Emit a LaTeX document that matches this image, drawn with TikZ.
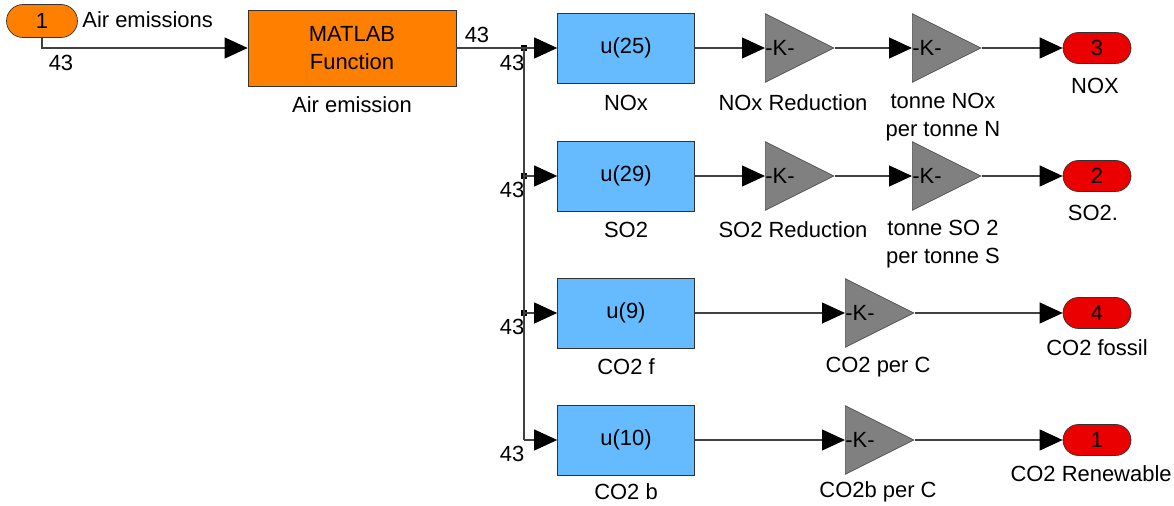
\documentclass[tikz,border=0pt]{standalone}
\usepackage{fontspec}
\setmainfont{Liberation Sans}
\usetikzlibrary{shapes.geometric, shapes.misc, arrows.meta, positioning}

\definecolor{portorange}{RGB}{255,128,0}
\definecolor{fcnorange}{RGB}{255,128,0}
\definecolor{selblue}{RGB}{102,187,255}
\definecolor{gaingray}{RGB}{128,128,128}
\definecolor{outred}{RGB}{235,0,0}

\tikzset{
  wire/.style={line width=0.6pt, black!75},
  sig/.style={wire, -{Triangle[length=0.46cm, width=0.42cm, black]}},
  inport/.style={draw=black!80, fill=portorange, rounded rectangle, minimum width=1.42cm, minimum height=0.66cm, inner sep=0pt},
  outport/.style={draw=black!80, fill=outred, rounded rectangle, minimum width=1.36cm, minimum height=0.62cm, inner sep=0pt},
  fcnblock/.style={draw=black!80, fill=fcnorange, rectangle, minimum width=4.16cm, minimum height=1.52cm, align=center, font=\fontsize{12.5}{16}\selectfont},
  selblock/.style={draw=black!80, fill=selblue, rectangle, minimum width=2.74cm, minimum height=1.40cm},
  gainblock/.style={draw=black!70, fill=gaingray, isosceles triangle, isosceles triangle stretches, minimum width=1.37cm, minimum height=1.37cm, inner sep=0pt, anchor=lower side},
  lbl/.style={font=\fontsize{12.5}{16}\selectfont, align=center, inner sep=0pt},
  brdot/.style={fill=black, rectangle, minimum size=0.12cm, inner sep=0pt},
}

\begin{document}
\begin{tikzpicture}[x=0.02cm, y=-0.02cm, every node/.style={font=\fontsize{12.5}{16}\selectfont}]
  \useasboundingbox (0,0) rectangle (1174,506);

  % source and function
  \node[inport] (in1) at (42,21) {1};
  \node[lbl, anchor=west] (in1lbl) at (82,20) {Air emissions};
  \node[fcnblock] (fcn) at (352,48) {MATLAB\\Function};
  \node[lbl] (fcnlbl) at (352,105) {Air emission};

  % selectors
  \node[selblock] (nox) at (626,48) {u(25)};
  \node[selblock] (so2) at (626,176) {u(29)};
  \node[selblock] (co2f) at (626,313) {u(9)};
  \node[selblock] (co2b) at (626,440) {u(10)};
  \node[lbl] (noxlbl) at (626,103) {NOx};
  \node[lbl] (so2lbl) at (626,230) {SO2};
  \node[lbl] (co2flbl) at (626,367) {CO2 f};
  \node[lbl] (co2blbl) at (626,492) {CO2 b};

  % gains
  \node[gainblock] (g1a) at (765,48) {};
  \node[gainblock] (g1b) at (912,48) {};
  \node[gainblock] (g2a) at (765,176) {};
  \node[gainblock] (g2b) at (912,176) {};
  \node[gainblock] (g3) at (845,313) {};
  \node[gainblock] (g4) at (845,440) {};
  \foreach \g in {g1a,g1b,g2a,g2b,g3,g4}
    \node[lbl, anchor=west] at (\g.lower side) {-K-};
  \node[lbl] (g1albl) at (793,103) {NOx Reduction};
  \node[lbl] (g1blbl) at (943,117) {tonne NOx\\per tonne N};
  \node[lbl] (g2albl) at (793,230) {SO2 Reduction};
  \node[lbl] (g2blbl) at (943,244) {tonne SO 2\\per tonne S};
  \node[lbl] (g3lbl) at (878,367) {CO2 per C};
  \node[lbl] (g4lbl) at (878,492) {CO2b per C};

  % outports
  \node[outport] (out3) at (1097,48) {3};
  \node[outport] (out2) at (1097,176) {2};
  \node[outport] (out4) at (1097,313) {4};
  \node[outport] (out1) at (1097,440) {1};
  \node[lbl] (out3lbl) at (1095,86) {NOX};
  \node[lbl] (out2lbl) at (1093,213) {SO2.};
  \node[lbl] (out4lbl) at (1097,348) {CO2 fossil};
  \node[lbl, anchor=east] (out1lbl) at (1172,474) {CO2 Renewable};

  % branch points
  \coordinate (br1) at (524,48);
  \coordinate (br2) at (524,176);
  \coordinate (br3) at (524,313);
  \coordinate (br4) at (524,440);
  \node[brdot] (d1) at (br1) {};
  \node[brdot] (d2) at (br2) {};
  \node[brdot] (d3) at (br3) {};

  % signal widths
  \node[lbl] (w0) at (61,63) {43};
  \node[lbl] (w1) at (477,35) {43};
  \node[lbl] (w2) at (512,63) {43};
  \node[lbl] (w3) at (512,190) {43};
  \node[lbl] (w4) at (512,327) {43};
  \node[lbl] (w5) at (512,454) {43};

  % wires
  \draw[sig] (in1.south) |- (fcn.west);
  \draw[sig] (fcn.east) -- (nox.west);
  \draw[wire] (br1) -- (br4);
  \draw[sig] (br2) -- (so2.west);
  \draw[sig] (br3) -- (co2f.west);
  \draw[sig] (br4) -- (co2b.west);

  \draw[sig] (nox.east) -- (g1a.lower side);
  \draw[sig] (g1a.apex) -- (g1b.lower side);
  \draw[sig] (g1b.apex) -- (out3.west);
  \draw[sig] (so2.east) -- (g2a.lower side);
  \draw[sig] (g2a.apex) -- (g2b.lower side);
  \draw[sig] (g2b.apex) -- (out2.west);
  \draw[sig] (co2f.east) -- (g3.lower side);
  \draw[sig] (g3.apex) -- (out4.west);
  \draw[sig] (co2b.east) -- (g4.lower side);
  \draw[sig] (g4.apex) -- (out1.west);
\end{tikzpicture}
\end{document}
